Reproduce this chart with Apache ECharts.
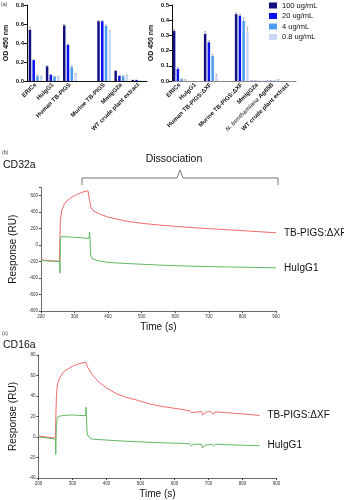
<!DOCTYPE html>
<html><head><meta charset="utf-8">
<script src="https://cdn.jsdelivr.net/npm/echarts@6/dist/echarts.min.js"></script>
<style>html,body{margin:0;padding:0;background:#fff}#c{width:344px;height:500px}</style>
</head><body><div id="c"></div><script>
const FONT = '"Liberation Sans", Arial, sans-serif';

// ELISA doses and colours
const doses = ['100 ug/mL', '20 ug/mL', '4 ug/mL', '0.8 ug/mL'];
const doseColors = ['#10107e', '#0a14ee', '#4a9cf2', '#c6daf6'];

// Panel (a), left: glycosylated constructs
const catsA = ['ERICs', 'HuIgG1', 'Human TB-PIGS', '', 'Murine TB-PIGS', 'MmIgG2a', 'WT crude plant extract'];
const a100 = [0.54, 0.155, 0.585, null, 0.63, 0.105, 0.012];
const a20  = [0.22, 0.065, 0.38, null, 0.63, 0.055, 0.012];
const a4   = [0.05, 0.045, 0.145, null, 0.58, 0.05, 0.004];
const a08  = [0.045, 0.045, 0.075, null, 0.51, 0.055, 0.003];
const errA100 = [0.03, 0.005, 0.01, null, 0.005, 0.005, 0];
const errA20  = [0.005, 0.005, 0.01, null, 0.005, 0.005, 0];
const errA4   = [0.01, 0.005, 0.015, null, 0.01, 0.005, 0];
const errA08  = [0.005, 0.005, 0.005, null, 0.02, 0.005, 0];

// Panel (a), right: ΔXF constructs
const catsB = ['ERICs', 'HuIgG1', 'Human TB-PIGS:ΔXF', '', 'Murine TB-PIGS:ΔXF', 'MmIgG2a', 'N. benthamiana Ag85B', 'WT crude plant extract'];
const b100 = [0.33, 0, 0.31, null, 0.44, 0.002, 0.002, 0];
const b20  = [0.08, 0, 0.255, null, 0.43, 0.002, 0.002, 0];
const b4   = [0.012, 0, 0.165, null, 0.395, 0.002, 0.003, 0];
const b08  = [0.006, 0, 0.03, null, 0.325, 0.003, 0.004, 0];
const errB100 = [0.01, 0, 0.015, null, 0.01, 0, 0, 0];
const errB20  = [0.01, 0, 0.01, null, 0.01, 0, 0, 0];
const errB4   = [0.003, 0, 0.01, null, 0.02, 0, 0, 0];
const errB08  = [0.003, 0, 0.015, null, 0.03, 0, 0.005, 0];

// Panel (b): CD32a sensorgram [time s, response RU]
const cd32aPigs = [[200,-180],[230,-190],[255,-195],[257,-180],[258,300],[262,420],[270,500],[280,550],[295,590],[310,620],[325,645],[340,660],[344,665],[346,520],[349,455],[355,420],[370,385],[400,340],[450,295],[500,265],[550,245],[600,228],[650,213],[700,200],[750,188],[800,176],[850,163],[900,150]];
const cd32aHu = [[200,-185],[230,-195],[255,-200],[257,-340],[258,60],[260,105],[280,100],[300,95],[320,90],[343,80],[345,160],[346,90],[348,-120],[352,-160],[365,-185],[400,-210],[450,-222],[500,-232],[550,-242],[600,-250],[650,-256],[700,-260],[750,-265],[800,-268],[850,-272],[900,-275]];

// Panel (c): CD16a sensorgram [time s, response RU]
const cd16aPigs = [[200,1],[225,0],[250,-1],[251,17],[253,40],[256,52],[265,59],[275,64],[290,67],[303,69.5],[320,71.5],[339,73],[345,68],[360,60],[380,53],[400,48],[430,42],[460,38.5],[495,35.5],[530,32],[560,30],[590,28.5],[620,27],[645,25.5],[650,23.5],[655,25],[680,25],[683,21.5],[690,23.5],[700,25],[710,24],[715,22],[720,24.5],[740,24],[780,23],[820,22],[850,21]];
const cd16aHu = [[200,0],[225,-1],[250,-2],[251,-17],[253,12],[256,19.5],[270,21],[300,21.5],[320,21],[339,21],[340,29],[341,20],[343,5],[346,1],[355,-2],[400,-3],[450,-4],[500,-4.8],[550,-5.5],[600,-6],[645,-6.5],[650,-9],[655,-7],[680,-7],[683,-10.5],[690,-8],[700,-7.5],[710,-7],[715,-9],[720,-7],[750,-7.5],[800,-8],[850,-8.5]];

const BAR_W = 2.5;
const BAR_GAP = 0.5;

// error bars drawn above each bar of a dose group
function errRender(params, api) {
  const cat = api.value(0), k = api.value(1), m = api.value(2), e = api.value(3);
  const top = api.coord([cat, m + e]);
  const base = api.coord([cat, m]);
  const x = top[0] + (k - 1.5) * BAR_W * (1 + BAR_GAP);
  const st = { stroke: '#9a9a9a', lineWidth: 0.7 };
  return { type: 'group', children: [
    { type: 'line', shape: { x1: x, y1: base[1], x2: x, y2: top[1] }, style: st },
    { type: 'line', shape: { x1: x - 1, y1: top[1], x2: x + 1, y2: top[1] }, style: st }
  ]};
}
function errData(vals, errs) {
  const out = [];
  vals.forEach((arr, k) => arr.forEach((v, i) => {
    if (v != null && errs[k][i] > 0) out.push([i, k, v, errs[k][i]]);
  }));
  return out;
}

const catLabel = {
  rotate: 45, interval: 0, fontSize: 6, fontWeight: 'bold', color: '#111', margin: 3, fontFamily: FONT,
  formatter: v => v.indexOf('N. benthamiana') === 0 ? '{i|N. benthamiana} Ag85B' : v,
  rich: { i: { fontStyle: 'italic', fontWeight: 'bold', fontSize: 6, color: '#555', fontFamily: FONT } }
};
const odLabel = { fontSize: 6, fontWeight: 'bold', color: '#111', fontFamily: FONT, margin: 3, formatter: v => v.toFixed(1) };
const kinLabel = { fontSize: 4.5, color: '#333', fontFamily: FONT, margin: 3 };
const kinLine = { show: true, onZero: false, lineStyle: { color: '#444', width: 0.8 } };

function barSeries(name, data, k, xi) {
  return { name, type: 'bar', xAxisIndex: xi, yAxisIndex: xi, data, barWidth: BAR_W, barGap: (BAR_GAP * 100) + '%',
    itemStyle: { color: doseColors[k] }, silent: true };
}

const series = [];
[a100, a20, a4, a08].forEach((d, k) => series.push(barSeries(doses[k], d, k, 0)));
[b100, b20, b4, b08].forEach((d, k) => series.push(barSeries(doses[k], d, k, 1)));
series.push({ type: 'custom', xAxisIndex: 0, yAxisIndex: 0, renderItem: errRender, encode: { x: 0, y: 2 }, z: 3,
  data: errData([a100, a20, a4, a08], [errA100, errA20, errA4, errA08]) });
series.push({ type: 'custom', xAxisIndex: 1, yAxisIndex: 1, renderItem: errRender, encode: { x: 0, y: 2 }, z: 3,
  data: errData([b100, b20, b4, b08], [errB100, errB20, errB4, errB08]) });

function kinSeries(name, data, color, idx) {
  return { name, type: 'line', xAxisIndex: idx, yAxisIndex: idx, data, showSymbol: false, smooth: false,
    lineStyle: { color, width: 1 }, itemStyle: { color }, silent: true,
    endLabel: { show: true, formatter: '{a}', fontSize: 10, color: '#111', fontFamily: FONT, distance: 8 } };
}
series.push(kinSeries('TB-PIGS:ΔXF', cd32aPigs, '#f46a6a', 2));
series.push(kinSeries('HuIgG1', cd32aHu, '#62b862', 2));
series.push(kinSeries('TB-PIGS:ΔXF', cd16aPigs, '#f46a6a', 3));
series.push(kinSeries('HuIgG1', cd16aHu, '#62b862', 3));

const kinX = (gi) => ({ type: 'value', gridIndex: gi, min: 200, max: 900, interval: 100, axisLabel: kinLabel, axisLine: kinLine,
  axisTick: { length: 2, lineStyle: { color: '#444' } }, splitLine: { show: false },
  name: 'Time (s)', nameLocation: 'middle', nameGap: 11, nameTextStyle: { fontSize: 10, color: '#111' } });

const option = {
  animation: false,
  textStyle: { fontFamily: FONT },
  legend: { data: doses, orient: 'vertical', left: 269, top: 1.5, padding: 0, itemWidth: 8, itemHeight: 6, itemGap: 2.5,
    icon: 'rect', textStyle: { fontSize: 7.5, color: '#111', fontFamily: FONT }, selectedMode: false },
  grid: [
    { left: 27, top: 5, width: 120, height: 76 },
    { left: 172, top: 5, width: 124, height: 76 },
    { left: 28, top: 187.5, width: 248, height: 123.5 },
    { left: 28.5, top: 355, width: 248, height: 123.7 }
  ],
  xAxis: [
    { type: 'category', gridIndex: 0, data: catsA, axisLabel: catLabel,
      axisTick: { alignWithLabel: true, length: 2, lineStyle: { color: '#111' } }, axisLine: { lineStyle: { color: '#111', width: 1 } } },
    { type: 'category', gridIndex: 1, data: catsB, axisLabel: catLabel,
      axisTick: { alignWithLabel: true, length: 2, lineStyle: { color: '#777' } }, axisLine: { lineStyle: { color: '#888', width: 1 } } },
    kinX(2),
    kinX(3)
  ],
  yAxis: [
    { type: 'value', gridIndex: 0, min: 0, max: 0.8, interval: 0.2, axisLabel: odLabel, splitLine: { show: false },
      axisLine: { show: true, lineStyle: { color: '#111' } }, axisTick: { show: true, length: 3, lineStyle: { color: '#111' } },
      name: 'OD 450 nm', nameLocation: 'middle', nameGap: 17, nameTextStyle: { fontSize: 7, fontWeight: 'bold', color: '#111' } },
    { type: 'value', gridIndex: 1, min: 0, max: 0.5, interval: 0.1, axisLabel: odLabel, splitLine: { show: false },
      axisLine: { show: true, lineStyle: { color: '#111' } }, axisTick: { show: true, length: 3, lineStyle: { color: '#111' } },
      name: 'OD 450 nm', nameLocation: 'middle', nameGap: 17, nameTextStyle: { fontSize: 7, fontWeight: 'bold', color: '#111' } },
    { type: 'value', gridIndex: 2, min: -800, max: 700, interval: 200, splitLine: { show: false },
      axisLabel: Object.assign({}, kinLabel, { formatter: v => v > 600 ? '' : v }),
      axisLine: kinLine, axisTick: { show: true, length: 2, lineStyle: { color: '#444' } },
      name: 'Response (RU)', nameLocation: 'middle', nameGap: 14, nameTextStyle: { fontSize: 10, color: '#111' } },
    { type: 'value', gridIndex: 3, min: -40, max: 80, interval: 20, splitLine: { show: false }, axisLabel: kinLabel,
      axisLine: kinLine, axisTick: { show: true, length: 2, lineStyle: { color: '#444' } },
      name: 'Response (RU)', nameLocation: 'middle', nameGap: 14, nameTextStyle: { fontSize: 10, color: '#111' } }
  ],
  graphic: [
    { type: 'text', left: 1, top: 2, style: { text: '(a)', fontSize: 5, fill: '#333', fontFamily: FONT } },
    { type: 'text', left: 2, top: 150, style: { text: '(b)', fontSize: 5, fill: '#333', fontFamily: FONT } },
    { type: 'text', left: 2, top: 331, style: { text: '(c)', fontSize: 5, fill: '#333', fontFamily: FONT } },
    { type: 'text', left: 3, top: 160, style: { text: 'CD32a', fontSize: 10.5, fill: '#111', fontFamily: FONT } },
    { type: 'text', left: 3, top: 339.5, style: { text: 'CD16a', fontSize: 10.5, fill: '#111', fontFamily: FONT } },
    { type: 'text', x: 174, y: 159, style: { text: 'Dissociation', fontSize: 10.5, fill: '#111', fontFamily: FONT, align: 'center', verticalAlign: 'middle' } },
    { type: 'polyline', shape: { points: [[82, 185], [82, 178], [177, 178], [180, 170], [183, 178], [278, 178], [278, 185]] },
      style: { stroke: '#777', lineWidth: 1, fill: null } }
  ],
  series
};

const chart = echarts.init(document.getElementById('c'), null, { renderer: 'canvas' });
chart.setOption(option);
</script></body></html>
